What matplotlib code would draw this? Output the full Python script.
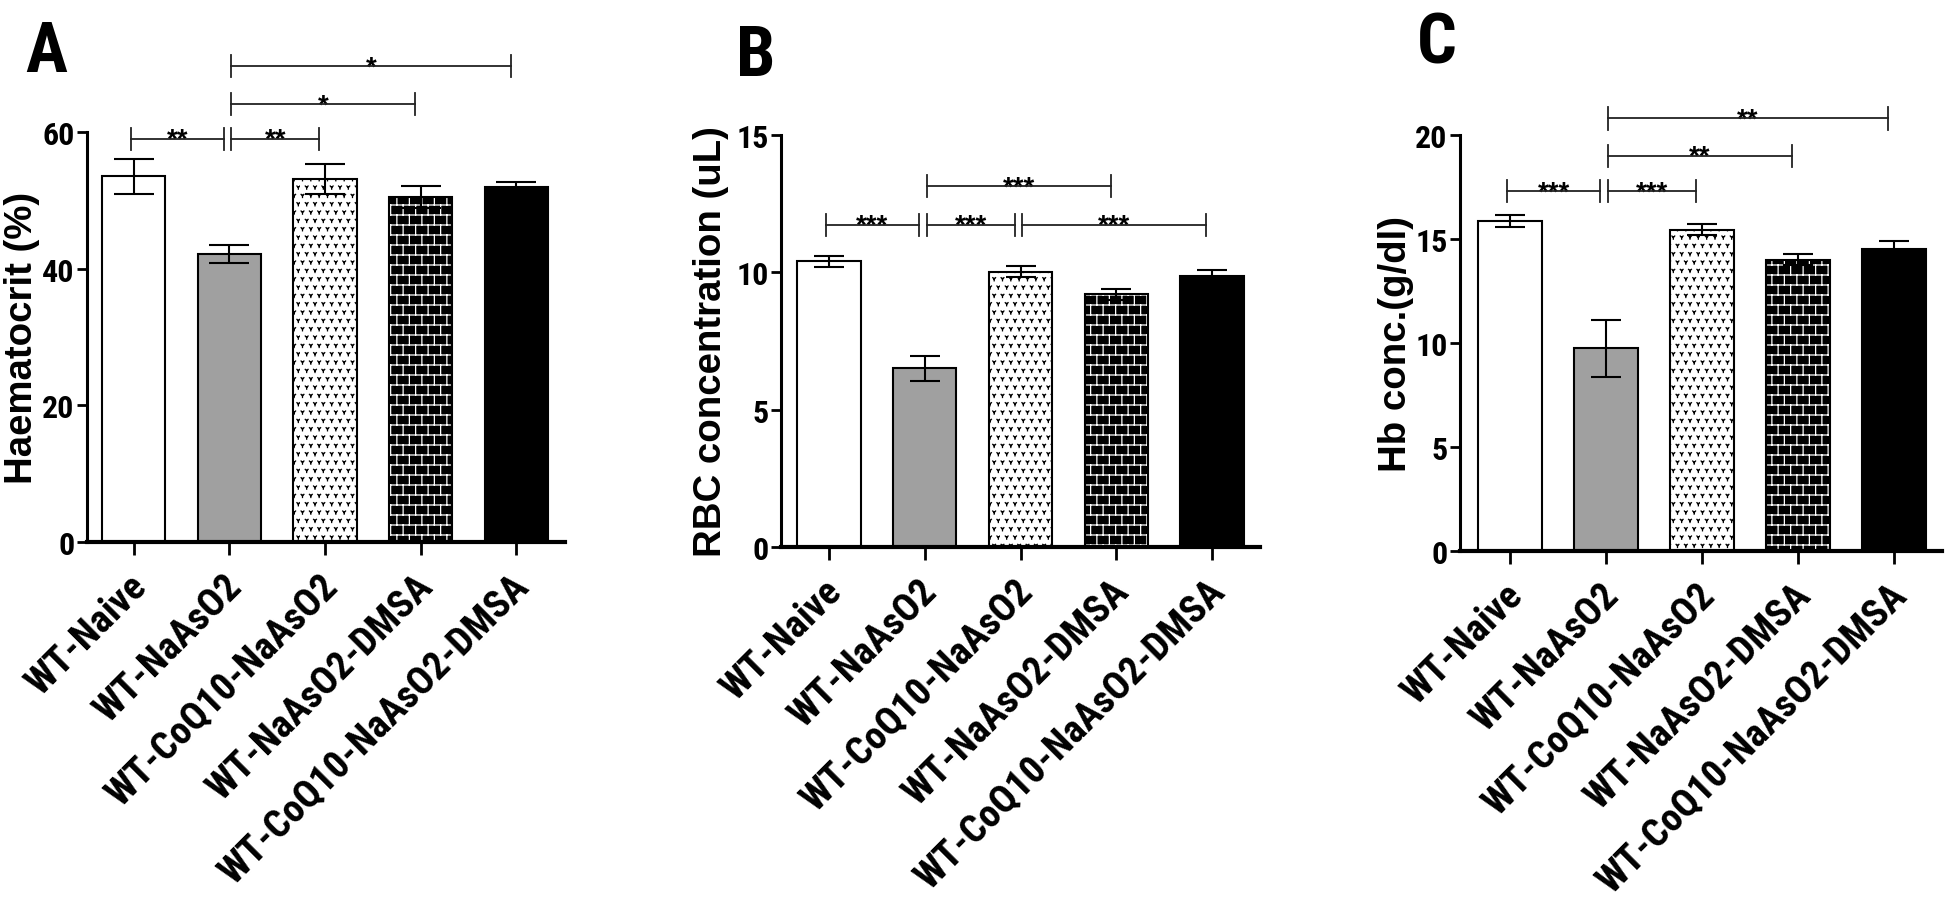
import warnings
import numpy as np
import matplotlib
matplotlib.use("Agg")
import matplotlib.pyplot as plt
from matplotlib import hatch as mhatch, font_manager
from matplotlib.font_manager import FontProperties
from matplotlib.path import Path
from matplotlib.transforms import ScaledTranslation

warnings.filterwarnings("ignore")

groups = ["WT-Naive", "WT-NaAsO2", "WT-CoQ10-NaAsO2", "WT-NaAsO2-DMSA", "WT-CoQ10-NaAsO2-DMSA"]

hct_mean = [53.5, 42.1, 53.15, 50.5, 51.9]
hct_sem = [2.5, 1.3, 2.15, 1.6, 0.8]
rbc_mean = [10.4, 6.5, 10.03, 9.2, 9.87]
rbc_sem = [0.21, 0.45, 0.2, 0.2, 0.2]
hb_mean = [15.87, 9.75, 15.45, 14.0, 14.5]
hb_sem = [0.3, 1.37, 0.25, 0.27, 0.38]

# (from bar, to bar, height, stars)
hct_sig = [(0, 1, 59.0, "**"), (1, 2, 59.0, "**"), (1, 3, 64.1, "*"), (1, 4, 69.6, "*")]
rbc_sig = [(0, 1, 11.73, "***"), (1, 2, 11.73, "***"), (2, 4, 11.73, "***"), (1, 3, 13.14, "***")]
hb_sig = [(0, 1, 17.3, "***"), (1, 2, 17.3, "***"), (1, 3, 19.0, "**"), (1, 4, 20.8, "**")]


# custom hatches: 'b' = brick wall, 'v' = little Y marks
class BrickHatch(mhatch.HatchPatternBase):
    def __init__(self, hatch, density):
        n = hatch.count("b")
        self.rows = 10 * n
        self.cols = 8 * n
        self.num_vertices = (self.rows + (self.rows + 1) * self.cols) * 2 if n else 0

    def set_vertices_and_codes(self, vertices, codes):
        k = 0
        for r in range(-1, self.rows):
            y0 = (r + 0.5) / self.rows
            y1 = (r + 1.5) / self.rows
            if r >= 0:
                vertices[k] = (0.0, y0)
                vertices[k + 1] = (1.0, y0)
                k += 2
            for c in range(self.cols):
                x = (c + 0.25 + 0.5 * (r % 2)) / self.cols
                vertices[k] = (x, y0)
                vertices[k + 1] = (x, y1)
                k += 2
        codes[0::2] = Path.MOVETO
        codes[1::2] = Path.LINETO


class VeeHatch(mhatch.HatchPatternBase):
    def __init__(self, hatch, density):
        n = hatch.count("v")
        self.n = 12 * n
        self.num_vertices = self.n * self.n * 5

    def set_vertices_and_codes(self, vertices, codes):
        s = 1.0 / self.n
        k = 0
        for r in range(self.n):
            for c in range(self.n):
                x = (c + 0.3 + 0.5 * (r % 2)) * s
                y = (r + 0.5) * s
                vertices[k:k + 5] = [(x - 0.17 * s, y + 0.18 * s), (x, y - 0.02 * s),
                                     (x + 0.17 * s, y + 0.18 * s), (x, y - 0.02 * s),
                                     (x, y - 0.2 * s)]
                codes[k:k + 5] = [Path.MOVETO, Path.LINETO, Path.LINETO, Path.MOVETO, Path.LINETO]
                k += 5


mhatch._hatch_types.append(BrickHatch)
mhatch._hatch_types.append(VeeHatch)
plt.rcParams["hatch.linewidth"] = 0.9


# fonts: a bold condensed face for ticks / letters, a bold normal face for axis titles
def weight_of(f):
    w = f.weight
    if isinstance(w, str):
        w = font_manager.weight_dict.get(w, 400)
    return w


def is_cond(st):
    if isinstance(st, str):
        return "condensed" in st or "narrow" in st
    return st < 500


def pick(names, cond):
    for nm in names:
        for f in font_manager.fontManager.ttflist:
            if f.name == nm and f.style == "normal" and weight_of(f) >= 600 and is_cond(f.stretch) == cond:
                return f.fname
    return None


narrow_file = pick(["Liberation Sans Narrow", "Roboto Condensed", "Open Sans Condensed",
                    "Noto Sans", "DejaVu Sans", "Roboto", "Open Sans"], True)
if narrow_file is None:
    for f in font_manager.fontManager.ttflist:
        low = f.fname.lower()
        if ("condensed" in low or "narrow" in low) and "bold" in low and "italic" not in low:
            narrow_file = f.fname
            break
wide_file = pick(["Liberation Sans", "Arimo", "DejaVu Sans"], False)

fp_narrow = FontProperties(fname=narrow_file) if narrow_file else FontProperties(family="DejaVu Sans", weight="bold")
fp_wide = FontProperties(fname=wide_file) if wide_file else FontProperties(family="DejaVu Sans", weight="bold")

fig = plt.figure(figsize=(19.46, 9.03), dpi=100)
W, H = 1946.0, 903.0
renderer = fig.canvas.get_renderer()


def fit(text, fp, target_px):
    t = fig.text(0, 0, text, fontproperties=fp, fontsize=20)
    w = t.get_window_extent(renderer).width
    t.remove()
    return 20.0 * target_px / w


xlab_size = fit(groups[-1], fp_narrow, 420)
ylab_size = fit("RBC concentration (uL)", fp_wide, 431)
ytick_size = 23
star_size = fit("***", fp_wide, 32)
letter_size = fit("A", fp_narrow, 42)

faces = ["white", "#a0a0a0", "white", "black", "black"]
hatch_edges = ["black", "black", "black", "white", "black"]
hatches = [None, None, "v", "b", None]


def panel(rect, means, sems, ymax, yticks, ylabel, lab_x, capsize, sig, xlim):
    left, top, right, bottom = rect
    ax = fig.add_axes([left / W, 1 - bottom / H, (right - left) / W, (bottom - top) / H])
    x = np.arange(len(groups))
    bars = ax.bar(x, means, width=0.66, color=faces, edgecolor=hatch_edges, linewidth=0, zorder=2)
    for b, h in zip(bars, hatches):
        b.set_hatch(h)
    ax.bar(x, means, width=0.66, facecolor="none", edgecolor="black", linewidth=1.5, zorder=2)
    ax.errorbar(x, means, yerr=sems, fmt="none", ecolor="black", elinewidth=1.5,
                capsize=capsize, capthick=1.5, zorder=3)

    ax.set_xlim(*xlim)
    ax.set_ylim(0, ymax)
    ax.set_yticks(yticks)
    for s in ["top", "right"]:
        ax.spines[s].set_visible(False)
    ax.spines["left"].set_linewidth(2.2)
    ax.spines["bottom"].set_linewidth(3)
    ax.tick_params(axis="y", length=7, width=2, pad=2)
    ax.tick_params(axis="x", length=9, width=2, pad=24)
    for t in ax.get_yticklabels():
        t.set_fontproperties(fp_narrow)
        t.set_fontsize(ytick_size)
    ax.set_xticks(x)
    ax.set_xticklabels(groups, rotation=45, ha="right", va="baseline", rotation_mode="anchor")
    shift = ScaledTranslation(14 / 100.0, 0, fig.dpi_scale_trans)
    for t in ax.get_xticklabels():
        t.set_fontproperties(fp_narrow)
        t.set_fontsize(xlab_size)
        t.set_transform(t.get_transform() + shift)
    ax.set_ylabel(ylabel, fontproperties=fp_wide, fontsize=ylab_size, va="center")
    ax.yaxis.set_label_coords((lab_x - left) / (right - left), 0.5)

    dy = 0.027 * ymax
    for i, j, y, stars in sig:
        x0 = i + (0.02 if i > 0 else -0.03)
        x1 = j - 0.06
        kw = dict(color="#222222", lw=1.3, clip_on=False, zorder=4)
        ax.plot([x0, x1], [y, y], **kw)
        ax.plot([x0, x0], [y - dy, y + dy], **kw)
        ax.plot([x1, x1], [y - dy, y + dy], **kw)
        ax.annotate(stars, ((x0 + x1) / 2, y), xytext=(0, -0.3 * star_size), textcoords="offset points",
                    ha="center", va="baseline", fontproperties=fp_wide, fontsize=star_size,
                    annotation_clip=False)
    return ax


panel((87, 133, 565, 543), hct_mean, hct_sem, 60, [0, 20, 40, 60], "Haematocrit (%)",
      22, 14.5, hct_sig, (-0.49, 4.51))
panel((781, 136, 1260, 548), rbc_mean, rbc_sem, 15, [0, 5, 10, 15], "RBC concentration (uL)",
      711, 11, rbc_sig, (-0.5, 4.5))
panel((1460, 136, 1942, 552), hb_mean, hb_sem, 20, [0, 5, 10, 15, 20], "Hb conc.(g/dl)",
      1396, 10.5, hb_sig, (-0.52, 4.5))

for letter, lx, ly in [("A", 46, 72), ("B", 756, 76), ("C", 1437, 63)]:
    fig.text(lx / W, 1 - ly / H, letter, ha="center", va="baseline",
             fontproperties=fp_narrow, fontsize=letter_size)

fig.savefig("out.png", dpi=100, facecolor="white")
